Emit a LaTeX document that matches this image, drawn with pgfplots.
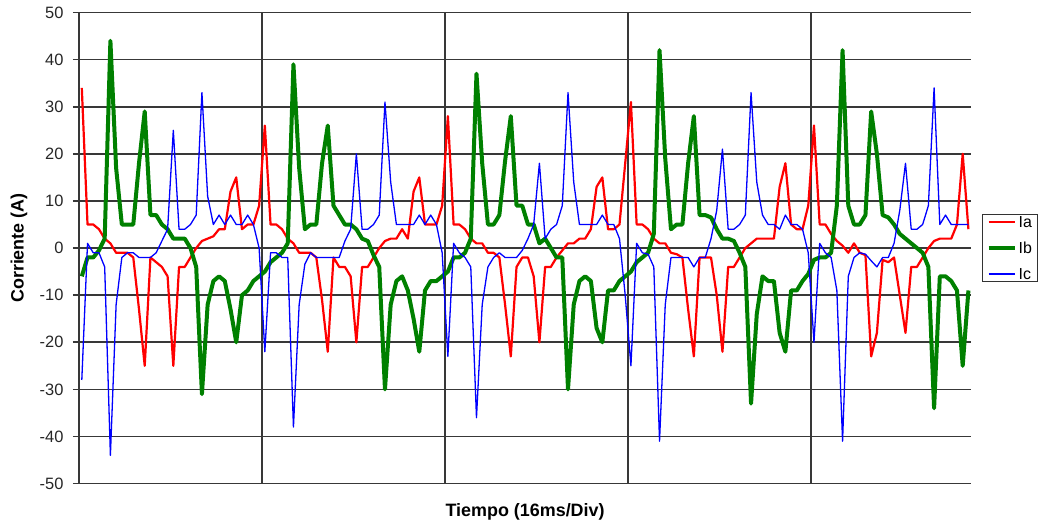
\documentclass[border=0pt]{standalone}
\usepackage{fontspec}
\setmainfont{Liberation Sans}
\usepackage{pgfplots}
\usepackage{pgfplotstable}
\pgfplotsset{compat=1.18}

\definecolor{cRed}{RGB}{255,0,0}
\definecolor{cGreen}{RGB}{0,128,0}
\definecolor{cBlue}{RGB}{0,0,255}

% sample index, phase currents (A)
\pgfplotstableread{
i Ia Ib Ic
0 34 -6 -28
1 5 -2 1
2 5 -2 -1
3 4 -0.5 -1
4 2 2 -4
5 1 44 -44
6 -1 17 -12
7 -1 5 -2
8 -1 5 -1
9 -2 5 -1
10 -13 18 -2
11 -25 29 -2
12 -2 7 -2
13 -3 7 -1
14 -4 5 1.5
15 -6 4 4
16 -25 2 25
17 -4 2 4
18 -4 2 4
19 -2 0 5
20 0 -4 7
21 1.5 -31 33
22 2 -12 11
23 2.5 -7 5
24 4 -6 7
25 4 -7 5
26 12 -13 7
27 15 -20 5
28 4 -10 5
29 5 -9 7
30 5 -7 5
31 9 -6 0
32 26 -5 -22
33 5 -3 -1
34 5 -2 -1
35 4 -1 -2
36 2 1 -2
37 1 39 -38
38 -1 17 -12
39 -1 4 -3.4
40 -1 5 -1
41 -2 5 -2
42 -11 18 -2
43 -22 26 -2
44 -2 9 -2
45 -4 7 -2
46 -4 5 1.5
47 -6 5 4
48 -20 4 20
49 -4 2 4
50 -4 1.5 4
51 -2 -1.5 5
52 0 -4 7
53 1.5 -30 31
54 2 -12 14
55 2 -7 5
56 4 -6 5
57 2 -9 5
58 12 -15 5
59 15 -22 7
60 5 -9 5
61 5 -7 7
62 5 -7 5
63 9 -6 -1
64 28 -5 -23
65 5 -2 1
66 5 -2 -1
67 4 -1 -2
68 2 2 -4
69 1 37 -36
70 1 18 -12
71 -1 5 -4
72 -1 5 -2
73 -2 7 -1
74 -12 18.5 -2
75 -23 28 -2
76 -4 9 -2
77 -2 9 -0.5
78 -2 5 2
79 -6 5 5
80 -20 1 18
81 -4 2 2
82 -4 0 4
83 -2 -2 5
84 -0.5 -2 9
85 1 -30 33
86 1 -12 14
87 2 -7 5
88 2 -6 5
89 4 -7 5
90 13 -17 5
91 15 -20 7
92 4 -9 5
93 4 -9 5
94 5 -7 2
95 18 -6 -10
96 31 -5 -25
97 5 -3 1
98 5 -2 -1
99 4 -1 -1.3
100 2 3 -4
101 1 42 -41
102 1 19 -12
103 -1 4 -2
104 -1.3 5 -2
105 -2 5 -2
106 -13 18 -2
107 -23 28 -4
108 -2 7 -2
109 -2 7 -2
110 -2 6.5 2
111 -10 4 8
112 -22 2 21
113 -4 2 4
114 -4 1.5 4
115 -2 -1 5
116 0 -4 7
117 1 -33 33
118 2 -14 14
119 2 -6 7
120 2 -7 5
121 2 -7 5
122 13 -18 4
123 18 -22 7
124 5 -9 5
125 4 -9 5
126 4 -7 4
127 9 -5.5 -1
128 26 -2.5 -20
129 5 -2 1
130 5 -2 -1
131 3 -1 -2
132 1.5 9 -9
133 0.5 42 -41
134 -1 9 -6
135 1 5 -2
136 -1 5 -1
137 -1.5 7 -1.3
138 -23 29 -2.7
139 -18 20 -4
140 -2.5 7 -2
141 -3 6.5 -2
142 -2 5 1
143 -10 3 8
144 -18 2 18
145 -4 1 4
146 -4 0 4
147 -2 -1 5
148 0 -4 9
149 1.5 -34 34
150 2 -6 5
151 2 -6 7
152 2 -7 5
153 5 -9 5
154 20 -25 5
155 4 -9 5
}\currents

\begin{document}
\begin{tikzpicture}
\begin{axis}[name=ax,
  width=893bp, height=471.5bp, scale only axis,
  xmin=-0.5, xmax=155.5, ymin=-50, ymax=50,
  ytick={-50,-40,...,50},
  xtick={31.5,63.5,95.5,127.5}, xticklabels={},
  axis lines*=left,
  axis line style={black!78, line width=1.7bp},
  grid=major,
  major grid style={black!78, line width=1.7bp},
  tick align=outside, major tick length=6bp,
  xtick style={draw=none},
  ytick style={black!78, line width=1.7bp},
  /pgf/number format/assume math mode=true,
  yticklabel style={font=\fontsize{16.5}{18}\selectfont, text=black!85, xshift=-6bp},
  xlabel={\textbf{Tiempo (16ms/Div)}},
  ylabel={\textbf{Corriente (A)}},
  xlabel style={font=\fontsize{18}{20}\selectfont, at={(axis description cs:0.5,-0.0594)}, anchor=center},
  ylabel style={font=\fontsize{18}{20}\selectfont, at={(axis description cs:-0.0672,0.5)}, anchor=center},
  legend style={at={(axis description cs:1.0123,0.5)}, anchor=west,
    draw=black!80, line width=1bp, font=\fontsize{16}{18}\selectfont,
    inner xsep=4bp, inner ysep=0bp, row sep=11.5bp,
    nodes={inner sep=1.5bp, text height=11.5bp, text depth=0bp},
    cells={anchor=west}},
  legend image code/.code={\draw[#1] (0bp,0bp) -- (26.5bp,0bp);},
  every axis plot/.append style={line join=round},
]
\addplot[cRed, line width=2.2bp] table[x=i, y=Ia] {\currents};
\addplot[cGreen, line width=4bp] table[x=i, y=Ib] {\currents};
\addplot[cBlue, line width=1.3bp] table[x=i, y=Ic] {\currents};
\legend{Ia,Ib,Ic}
\end{axis}
\path ([shift={(-79bp,-45bp)}]ax.south west) rectangle ([shift={(66bp,12.5bp)}]ax.north east);
\end{tikzpicture}
\end{document}
